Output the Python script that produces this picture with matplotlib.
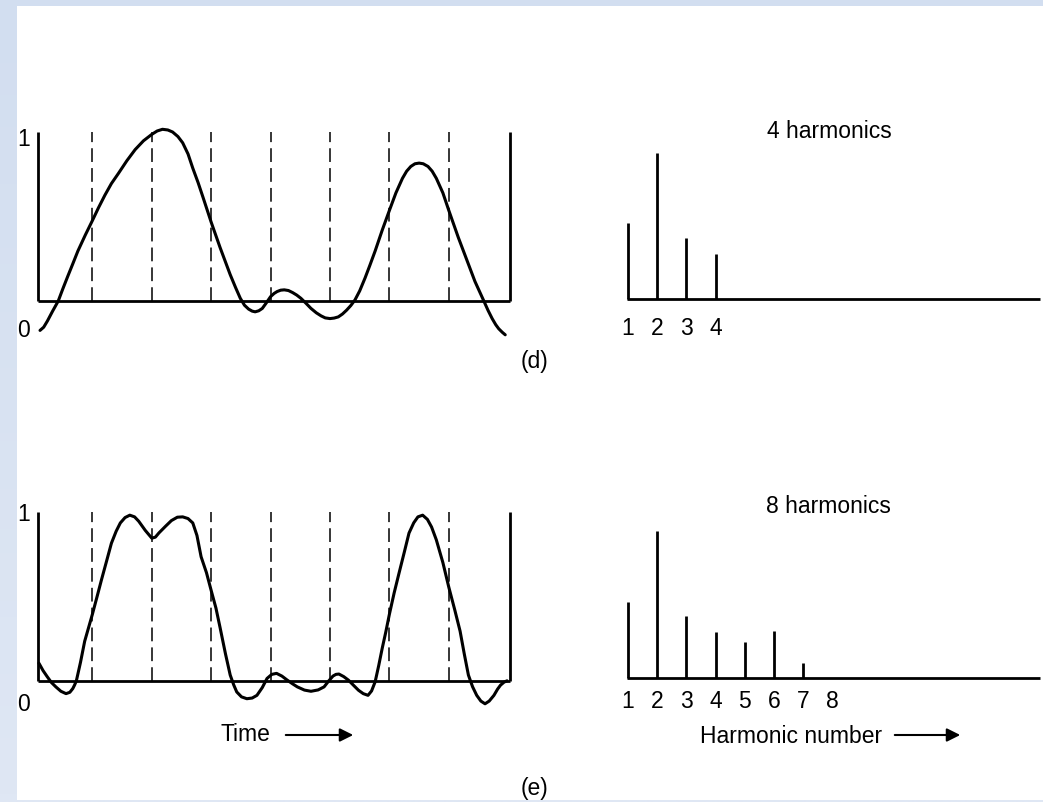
import numpy as np
import matplotlib
matplotlib.use("Agg")
import matplotlib.pyplot as plt

plt.rcParams['font.family'] = ['Liberation Sans', 'DejaVu Sans']

W, H = 1043, 803

# time-domain approximations, t in bit periods, v in signal units
t_4 = [0.118, 0.18, 0.243, 0.33, 0.425, 0.50, 0.585, 0.67, 0.756, 0.88, 1.0, 1.1,
       1.21, 1.32, 1.44, 1.58, 1.72, 1.86, 2.0, 2.09, 2.18, 2.27, 2.35, 2.44, 2.52,
       2.61, 2.69, 2.78, 2.86, 3.0, 3.15, 3.32, 3.41, 3.49, 3.56, 3.63, 3.69, 3.74,
       3.80, 3.86, 3.93, 4.0, 4.06, 4.11, 4.17, 4.23, 4.30, 4.37, 4.44, 4.51, 4.60,
       4.68, 4.77, 4.85, 4.92, 5.0, 5.07, 5.14, 5.21, 5.28, 5.35, 5.42, 5.50, 5.59,
       5.67, 5.76, 5.88, 6.0, 6.11, 6.22, 6.29, 6.36, 6.43, 6.5, 6.57, 6.65, 6.72,
       6.79, 6.9, 7.0, 7.16, 7.3, 7.44, 7.59, 7.66, 7.73, 7.79, 7.84, 7.90, 7.95]
v_4 = [-0.174, -0.155, -0.118, -0.06, 0.0, 0.07, 0.146, 0.22, 0.296, 0.39, 0.476,
       0.55, 0.626, 0.695, 0.756, 0.83, 0.896, 0.948, 0.986, 1.006, 1.016, 1.012,
       1.0, 0.973, 0.936, 0.87, 0.786, 0.70, 0.616, 0.466, 0.316, 0.156, 0.08,
       0.016, -0.025, -0.048, -0.06, -0.064, -0.058, -0.044, -0.01, 0.026, 0.045,
       0.056, 0.064, 0.066, 0.062, 0.05, 0.035, 0.016, -0.015, -0.044, -0.07,
       -0.088, -0.1, -0.104, -0.101, -0.094, -0.077, -0.054, -0.027, 0.006, 0.06,
       0.136, 0.21, 0.296, 0.42, 0.536, 0.64, 0.726, 0.768, 0.796, 0.812, 0.816,
       0.812, 0.796, 0.768, 0.726, 0.64, 0.536, 0.376, 0.246, 0.116, 0.0, -0.055,
       -0.104, -0.14, -0.164, -0.185, -0.2]

t_8 = [0.10, 0.17, 0.24, 0.31, 0.385, 0.47, 0.556, 0.62, 0.67, 0.70, 0.73, 0.80,
       0.87, 0.94, 1.0, 1.08, 1.15, 1.24, 1.32, 1.40, 1.47, 1.55, 1.63, 1.71, 1.78,
       1.89, 2.0, 2.06, 2.12, 2.23, 2.33, 2.43, 2.52, 2.61, 2.69, 2.76, 2.83, 2.92,
       3.0, 3.08, 3.15, 3.24, 3.32, 3.38, 3.43, 3.51, 3.6, 3.69, 3.77, 3.86, 3.94,
       4.02, 4.1, 4.19, 4.28, 4.37, 4.45, 4.57, 4.68, 4.80, 4.9, 4.98, 5.05, 5.10,
       5.15, 5.23, 5.31, 5.40, 5.48, 5.56, 5.64, 5.70, 5.76, 5.82, 5.88, 5.94, 6.0,
       6.08, 6.16, 6.25, 6.33, 6.41, 6.48, 6.56, 6.64, 6.71, 6.79, 6.9, 7.0, 7.1,
       7.19, 7.26, 7.33, 7.40, 7.47, 7.54, 7.61, 7.68, 7.76, 7.82, 7.87, 7.93, 7.98]
v_8 = [0.104, 0.06, 0.024, -0.01, -0.036, -0.062, -0.076, -0.068, -0.046, -0.025,
       0.0, 0.11, 0.234, 0.32, 0.394, 0.50, 0.594, 0.71, 0.814, 0.885, 0.934, 0.966,
       0.98, 0.97, 0.944, 0.89, 0.844, 0.85, 0.875, 0.914, 0.948, 0.968, 0.97, 0.96,
       0.934, 0.86, 0.734, 0.64, 0.534, 0.43, 0.314, 0.16, 0.034, -0.025, -0.066,
       -0.095, -0.106, -0.102, -0.086, -0.04, 0.014, 0.038, 0.044, 0.028, 0.004,
       -0.018, -0.036, -0.055, -0.062, -0.054, -0.036, 0.0, 0.028, 0.038, 0.04,
       0.025, 0.004, -0.028, -0.056, -0.076, -0.086, -0.06, -0.006, 0.09, 0.194,
       0.29, 0.394, 0.52, 0.634, 0.76, 0.874, 0.935, 0.97, 0.98, 0.955, 0.91, 0.834,
       0.70, 0.554, 0.42, 0.294, 0.16, 0.034, -0.035, -0.086, -0.12, -0.136, -0.12,
       -0.086, -0.05, -0.026, -0.008, 0.0]

# harmonic amplitudes
harm_4 = [1, 2, 3, 4]
amp_4 = [0.505, 0.973, 0.405, 0.302]
harm_8 = [1, 2, 3, 4, 5, 6, 7]
amp_8 = [0.509, 0.978, 0.411, 0.307, 0.238, 0.311, 0.102]
ticks_4 = ['1', '2', '3', '4']
ticks_8 = ['1', '2', '3', '4', '5', '6', '7', '8']

bit_lines = [1, 2, 3, 4, 5, 6, 7]

fig = plt.figure(figsize=(W / 100, H / 100), dpi=100)

# light blue page border (top, left, bottom)
bg = fig.add_axes([0, 0, 1, 1])
bg.axis('off')
grad = np.linspace(0, 1, 100).reshape(-1, 1)
cmap = matplotlib.colors.LinearSegmentedColormap.from_list('pg', ['#d2def0', '#dfe7f4'])
bg.imshow(grad, extent=(0, 17, H, 0), cmap=cmap, aspect='auto')
bg.imshow(np.zeros((1, 2)), extent=(0, W, 7, 0), cmap=cmap, aspect='auto', vmin=0, vmax=1)
bg.imshow(np.ones((1, 2)), extent=(0, W, H, 801), cmap=cmap, aspect='auto', vmin=0, vmax=1)
bg.set_xlim(0, W)
bg.set_ylim(H, 0)


def panel(xl, yl, fx, fy):
    # fx/fy: pixel position (from top-left) of data coordinates
    px0, px1 = fx(xl[0]), fx(xl[1])
    py0, py1 = fy(yl[0]), fy(yl[1])
    ax = fig.add_axes([px0 / W, 1 - py0 / H, (px1 - px0) / W, (py0 - py1) / H])
    ax.set_xlim(*xl)
    ax.set_ylim(*yl)
    ax.axis('off')
    return ax


fs = 16.5
lw = 2.0
fx_t = lambda t: 33 + 59.4 * t
fx_h = lambda h: 628 + 29.2 * (h - 1)


def time_panel(base_y, t, v, lab1, lab0):
    ax = panel((-0.5, 8.5), (-0.4, 1.2), fx_t, lambda val: base_y - 169 * val)
    ax.plot([0.08, 0.08], [0, 1], color='black', lw=lw, solid_capstyle='butt')
    ax.plot([8.03, 8.03], [0, 1], color='black', lw=lw, solid_capstyle='butt')
    ax.plot([0.08, 8.03], [0, 0], color='black', lw=lw, solid_capstyle='butt')
    ax.vlines(bit_lines, 0, 1, colors='black', lw=1.1, linestyles=(0, (9, 4)))
    ax.plot(t, v, color='black', lw=lw + 0.2, solid_joinstyle='round', solid_capstyle='round')
    ax.text(-0.157, lab1, '1', fontsize=fs, ha='center', va='center')
    ax.text(-0.157, lab0, '0', fontsize=fs, ha='center', va='center')
    return ax


def harm_panel(base_y, harm, amp, ticks, tick_y, title, title_y):
    ax = panel((0.5, 15.3), (-0.3, 1.3), fx_h, lambda a: base_y - 150 * a)
    ax.plot([0.97, 15.1], [0, 0], color='black', lw=lw, solid_capstyle='butt')
    ax.vlines(harm, 0, amp, colors='black', lw=lw)
    for i, s in enumerate(ticks):
        ax.text(i + 1, tick_y, s, fontsize=fs, ha='center', va='center')
    ax.text(7.88, title_y, title, fontsize=fs, ha='center', va='center')
    return ax


time_panel(302, t_4, v_4, 0.96, -0.17)
time_panel(681.8, t_8, v_8, 0.987, -0.134)
harm_panel(300, harm_4, amp_4, ticks_4, -0.193, '4 harmonics', 1.121)
harm_panel(679, harm_8, amp_8, ticks_8, -0.147, '8 harmonics', 1.148)


def ptext(x, y, s):
    fig.text(x / W, 1 - y / H, s, fontsize=fs, ha='center', va='center')


def parrow(x0, x1, y):
    fig.add_artist(matplotlib.patches.FancyArrowPatch(
        (x0 / W, 1 - y / H), (x1 / W, 1 - y / H), transform=fig.transFigure,
        arrowstyle='-|>', mutation_scale=20, lw=1.5, color='black'))


ptext(535, 362, '(d)')
ptext(535, 789, '(e)')
ptext(245, 735, 'Time')
parrow(283, 356, 736)
ptext(791, 737, 'Harmonic number')
parrow(892, 963, 736)

fig.savefig('out.png', dpi=100)
